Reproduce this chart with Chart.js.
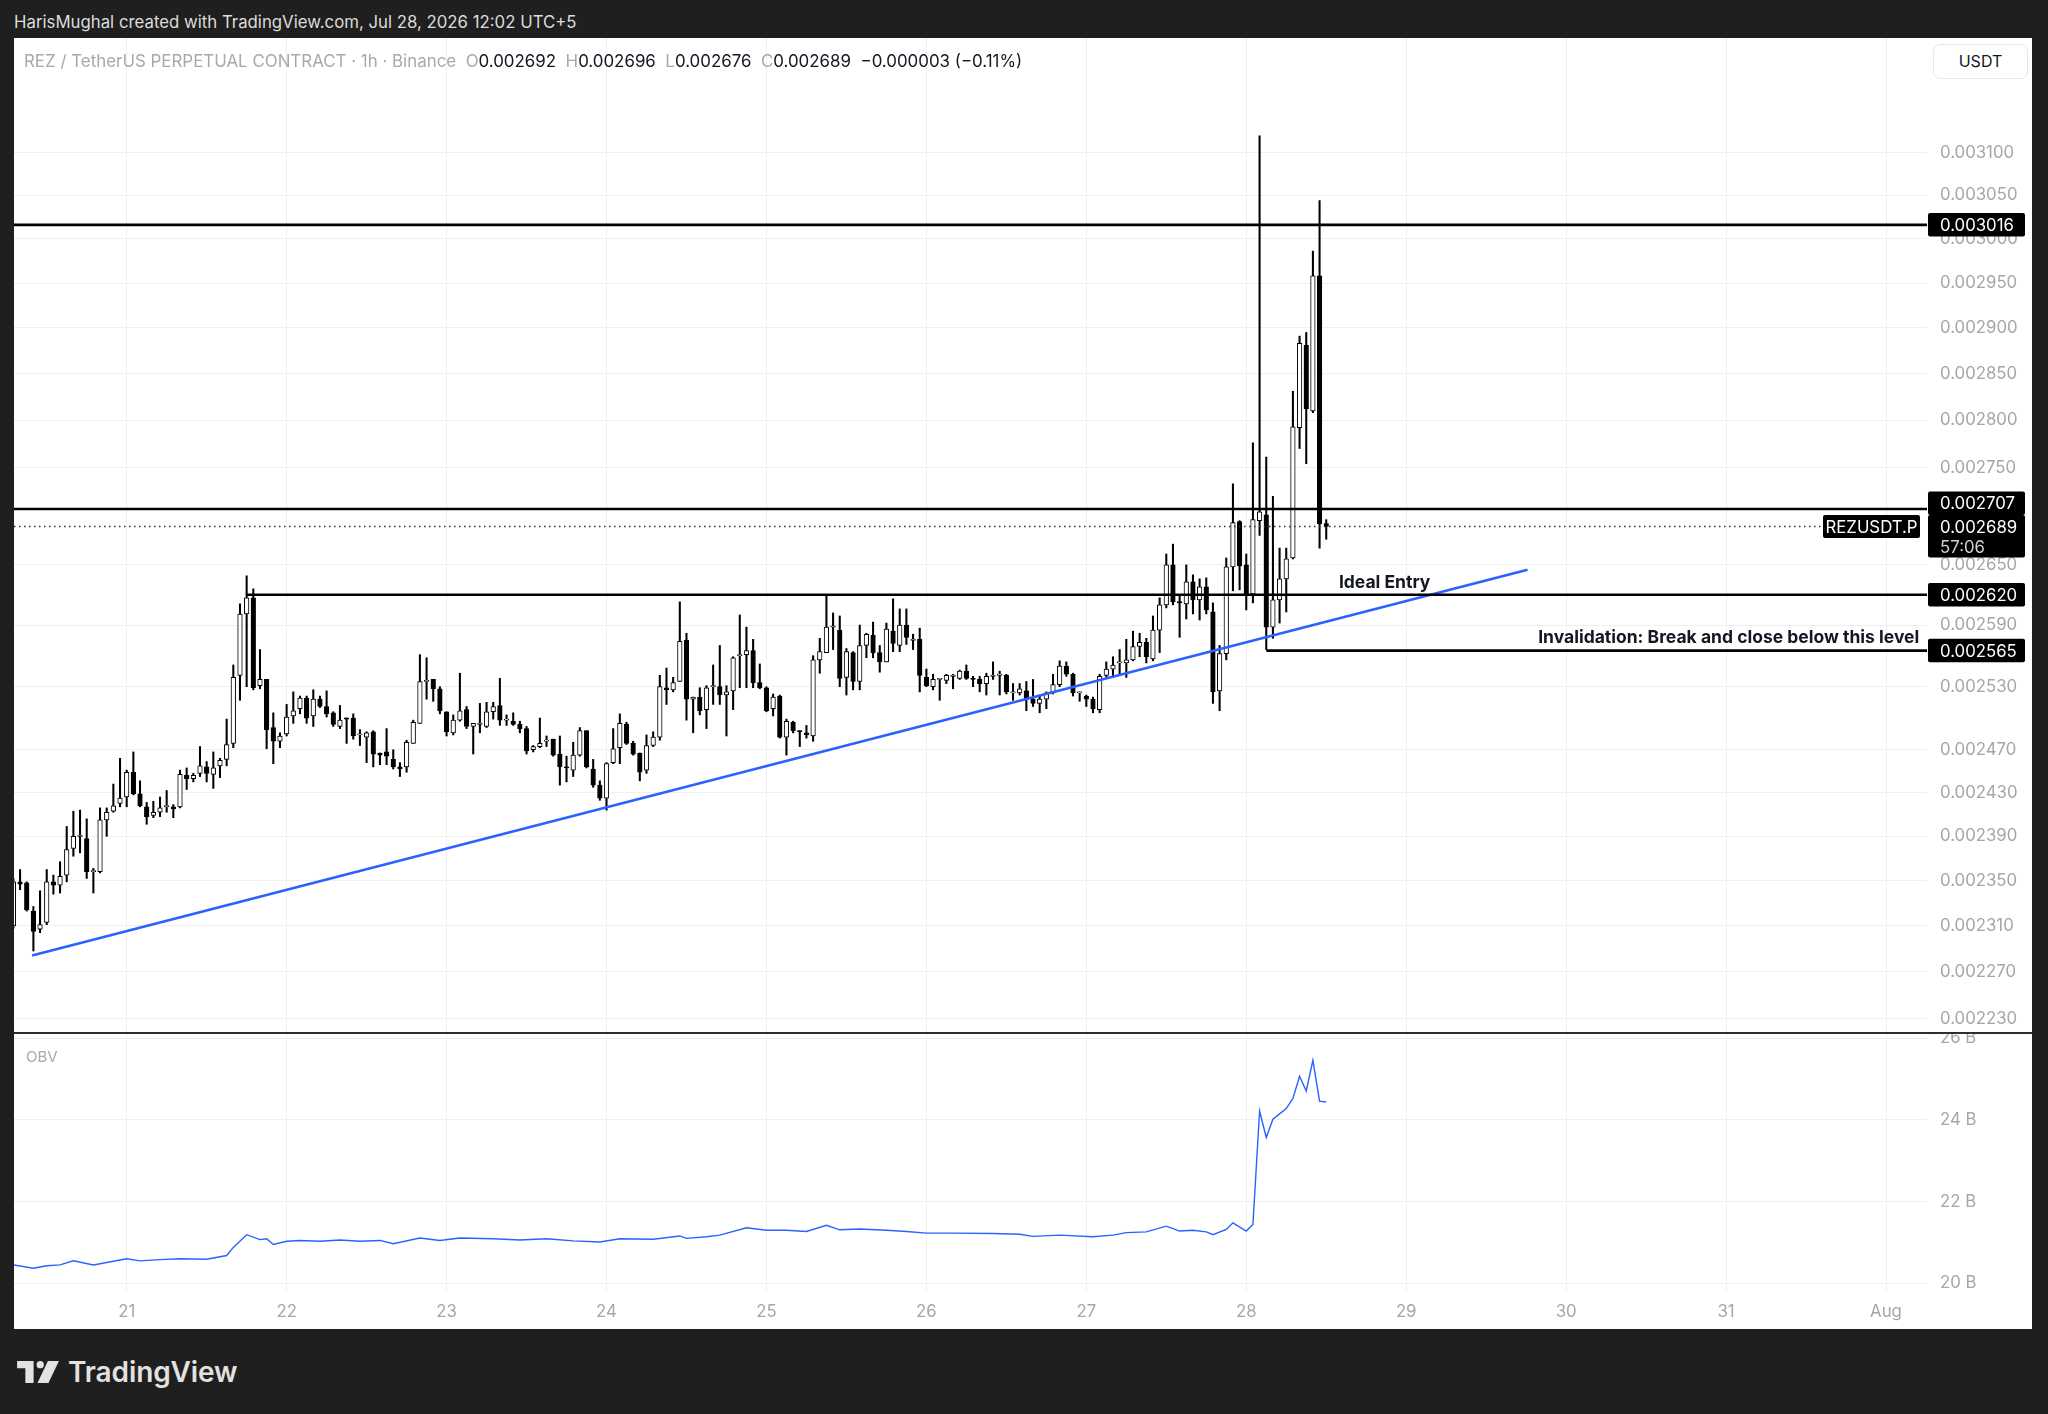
<!DOCTYPE html>
<html lang="en">
<head>
<meta charset="utf-8">
<title>REZUSDT.P · 1h · Binance</title>
<script src="https://cdn.jsdelivr.net/npm/chart.js@4.4.1/dist/chart.umd.min.js"></script>
<style>
  html, body { margin: 0; padding: 0; }
  body { width: 2048px; height: 1414px; background: #1f1f1f; position: relative; overflow: hidden; font-family: Inter, "Noto Sans", sans-serif; }
  #header { position: absolute; left: 14px; top: 12px; font-size: 16.8px; line-height: 20px; color: #dcdcdc; }
  #panel { position: absolute; left: 14px; top: 38px; width: 2018px; height: 1291px; background: #fff; }
  .pane { position: absolute; left: 0; width: 2018px; }
  #mainPane { top: 0; height: 995px; }
  #obvPane { top: 995px; height: 295px; }
  #divider { position: absolute; left: 0; top: 994px; width: 2018px; height: 2px; background: #2e2e2e; }
  #legend { position: absolute; left: 10px; top: 13px; font-size: 16.9px; line-height: 20px; color: #131722; white-space: pre; }
  #legend .dim { color: #a9a9a9; }
  #usdt { position: absolute; left: 1919px; top: 6px; width: 93px; height: 33px; border: 1px solid #e6e6e6; border-radius: 7px;
          font-size: 16px; line-height: 33px; text-align: center; color: #131722; background: #fff; }
  #obvTitle { position: absolute; left: 12px; top: 1009px; font-size: 15px; color: #a9a9a9; }
  #brand { position: absolute; left: 17px; top: 1358px; height: 28px; display: flex; align-items: center; gap: 9px;
           color: #e2e2e2; font-weight: 600; font-size: 28px; letter-spacing: -0.1px; }
</style>
</head>
<body>
<div id="header">HarisMughal created with TradingView.com, Jul 28, 2026 12:02 UTC+5</div>
<div id="panel">
  <div class="pane" id="mainPane"><canvas id="priceChart"></canvas></div>
  <div class="pane" id="obvPane"><canvas id="obvChart"></canvas></div>
  <div id="divider"></div>
  <div id="legend"></div>
  <div id="usdt">USDT</div>
  <div id="obvTitle">OBV</div>
</div>
<div id="brand">
  <svg width="42" height="22" viewBox="0 0 38 20"><path d="M15 0H0v6.5h7.5V20H15z" fill="#e2e2e2"/><circle cx="21" cy="3.3" r="3.3" fill="#e2e2e2"/><path d="M28 0h10l-9.5 20H18.5z" fill="#e2e2e2"/></svg>
  <span>TradingView</span>
</div>
<script>
// hourly candles, first one at 20 Jul 07:00 (hours counted from 21 Jul 00:00)
const firstHour = -17;
// prices in millionths of a USDT
const candleOpen = [
  2310, 2349, 2348, 2323, 2307, 2313, 2349, 2346, 2355, 2379, 2390, 2388,
  2358, 2358, 2405, 2413, 2420, 2426, 2449, 2429, 2417, 2409, 2412, 2417,
  2417, 2417, 2446, 2443, 2448, 2454, 2447, 2455, 2461, 2476, 2541, 2601,
  2617, 2531, 2537, 2491, 2478, 2485, 2502, 2509, 2519, 2502, 2518, 2511,
  2505, 2492, 2500, 2500, 2484, 2482, 2487, 2467, 2468, 2461, 2454, 2454,
  2476, 2495, 2535, 2537, 2528, 2506, 2486, 2498, 2508, 2492, 2494, 2492,
  2506, 2512, 2498, 2497, 2494, 2490, 2470, 2473, 2478, 2480, 2466, 2454,
  2451, 2465, 2488, 2452, 2437, 2425, 2458, 2472, 2494, 2476, 2467, 2451,
  2474, 2482, 2529, 2527, 2535, 2575, 2518, 2520, 2508, 2530, 2530, 2522,
  2526, 2560, 2561, 2565, 2534, 2529, 2509, 2521, 2482, 2496, 2488, 2486,
  2483, 2556, 2563, 2588, 2585, 2539, 2563, 2535, 2570, 2580, 2563, 2554,
  2584, 2570, 2590, 2575, 2576, 2539, 2530, 2537, 2536, 2540, 2538, 2545,
  2538, 2537, 2533, 2540, 2541, 2541, 2524, 2524, 2526, 2518, 2514, 2518,
  2524, 2532, 2550, 2542, 2524, 2521, 2518, 2508, 2541, 2547, 2553, 2553,
  2556, 2569, 2573, 2557, 2585, 2610, 2650, 2613, 2611, 2633, 2615, 2628,
  2603, 2526, 2562, 2648, 2694, 2650, 2621, 2695, 2701, 2588, 2615, 2636,
  2657, 2792, 2881, 2810, 2958, 2692
];
const candleHigh = [
  2352, 2360, 2349, 2327, 2341, 2360, 2355, 2367, 2399, 2413, 2414, 2406,
  2361, 2416, 2416, 2438, 2462, 2451, 2468, 2441, 2421, 2422, 2426, 2432,
  2419, 2451, 2453, 2448, 2473, 2459, 2468, 2462, 2499, 2551, 2611, 2639,
  2626, 2566, 2537, 2505, 2486, 2513, 2525, 2521, 2521, 2527, 2521, 2526,
  2506, 2512, 2500, 2504, 2489, 2487, 2488, 2467, 2490, 2470, 2458, 2479,
  2498, 2561, 2558, 2537, 2530, 2506, 2503, 2543, 2511, 2495, 2514, 2515,
  2515, 2538, 2503, 2505, 2497, 2492, 2474, 2500, 2483, 2480, 2483, 2464,
  2477, 2491, 2488, 2461, 2441, 2458, 2490, 2504, 2496, 2478, 2467, 2484,
  2487, 2541, 2548, 2539, 2613, 2582, 2520, 2529, 2531, 2551, 2570, 2531,
  2559, 2600, 2588, 2576, 2552, 2530, 2523, 2522, 2499, 2497, 2488, 2493,
  2560, 2577, 2620, 2602, 2599, 2567, 2564, 2590, 2582, 2593, 2570, 2592,
  2616, 2606, 2606, 2581, 2587, 2547, 2542, 2538, 2542, 2542, 2546, 2551,
  2540, 2540, 2543, 2554, 2545, 2542, 2533, 2533, 2535, 2537, 2522, 2525,
  2542, 2555, 2554, 2543, 2525, 2522, 2520, 2542, 2554, 2559, 2566, 2576,
  2584, 2582, 2577, 2599, 2617, 2661, 2671, 2620, 2650, 2640, 2636, 2637,
  2612, 2570, 2657, 2733, 2695, 2661, 2776, 3120, 2761, 2720, 2667, 2667,
  2831, 2891, 2895, 2986, 3044, 2696
];
const candleLow = [
  2308, 2342, 2323, 2288, 2304, 2311, 2338, 2339, 2349, 2372, 2375, 2352,
  2339, 2357, 2390, 2412, 2417, 2417, 2428, 2417, 2401, 2407, 2408, 2412,
  2407, 2416, 2433, 2440, 2445, 2440, 2434, 2444, 2455, 2472, 2517, 2530,
  2527, 2528, 2471, 2457, 2472, 2483, 2495, 2504, 2495, 2492, 2510, 2501,
  2492, 2490, 2476, 2480, 2474, 2458, 2454, 2456, 2456, 2452, 2445, 2449,
  2476, 2495, 2518, 2516, 2504, 2483, 2484, 2497, 2490, 2466, 2486, 2491,
  2499, 2493, 2493, 2493, 2486, 2466, 2468, 2472, 2473, 2464, 2437, 2440,
  2445, 2464, 2453, 2435, 2423, 2414, 2457, 2457, 2475, 2465, 2441, 2448,
  2473, 2479, 2513, 2525, 2535, 2498, 2486, 2503, 2490, 2513, 2513, 2483,
  2508, 2529, 2529, 2529, 2528, 2506, 2502, 2481, 2465, 2486, 2473, 2481,
  2478, 2543, 2563, 2566, 2530, 2522, 2527, 2527, 2558, 2558, 2544, 2554,
  2564, 2564, 2571, 2566, 2525, 2530, 2527, 2517, 2533, 2528, 2537, 2537,
  2530, 2525, 2522, 2537, 2522, 2523, 2517, 2522, 2507, 2511, 2505, 2509,
  2523, 2530, 2540, 2521, 2516, 2511, 2505, 2505, 2539, 2539, 2542, 2539,
  2555, 2559, 2553, 2555, 2563, 2607, 2610, 2578, 2596, 2601, 2595, 2601,
  2514, 2507, 2556, 2624, 2625, 2605, 2612, 2680, 2566, 2577, 2592, 2603,
  2656, 2770, 2754, 2808, 2667, 2676
];
const candleClose = [
  2349, 2347, 2324, 2305, 2311, 2349, 2346, 2354, 2378, 2390, 2391, 2358,
  2358, 2405, 2412, 2418, 2425, 2449, 2429, 2418, 2408, 2412, 2416, 2418,
  2415, 2447, 2443, 2446, 2455, 2448, 2453, 2460, 2475, 2539, 2601, 2617,
  2529, 2537, 2489, 2478, 2483, 2501, 2507, 2519, 2500, 2518, 2511, 2504,
  2494, 2498, 2499, 2483, 2484, 2486, 2466, 2465, 2464, 2454, 2452, 2477,
  2496, 2535, 2536, 2528, 2507, 2487, 2498, 2507, 2492, 2495, 2495, 2506,
  2511, 2498, 2498, 2494, 2490, 2469, 2473, 2476, 2478, 2465, 2454, 2453,
  2465, 2488, 2454, 2437, 2425, 2457, 2471, 2495, 2476, 2466, 2449, 2474,
  2482, 2530, 2527, 2534, 2574, 2518, 2520, 2507, 2529, 2531, 2522, 2525,
  2558, 2560, 2565, 2534, 2529, 2507, 2520, 2482, 2497, 2488, 2487, 2484,
  2556, 2564, 2588, 2588, 2538, 2564, 2535, 2570, 2581, 2563, 2554, 2586,
  2572, 2590, 2578, 2575, 2541, 2531, 2537, 2538, 2541, 2540, 2545, 2538,
  2537, 2533, 2540, 2541, 2541, 2525, 2524, 2528, 2518, 2514, 2518, 2524,
  2532, 2550, 2542, 2524, 2524, 2518, 2509, 2540, 2547, 2551, 2553, 2556,
  2569, 2573, 2559, 2585, 2610, 2650, 2613, 2612, 2633, 2615, 2628, 2605,
  2525, 2562, 2648, 2693, 2649, 2621, 2696, 2704, 2588, 2615, 2636, 2656,
  2793, 2883, 2812, 2958, 2692, 2689
];

// OBV in billions, at the hours where the line turns
const obvHours = [
  -17, -14, -12, -10, -8, -5, 0, 2, 5, 8, 12, 15, 16, 18, 20, 21, 22, 24, 26, 29,
  32, 35, 38, 40, 44, 47, 50, 55, 59, 63, 67, 71, 74, 79, 83, 84, 87, 89, 93, 96,
  99, 102, 105, 107, 110, 114, 117, 120, 124, 130, 134, 136, 140, 145, 148, 150, 153, 156, 158, 160,
  162, 163, 165, 166, 168, 169, 170, 171, 172, 173, 174, 175, 176, 177, 178, 179, 180
];
const obvValues = [
  20.45, 20.37, 20.43, 20.45, 20.55, 20.45, 20.60, 20.55, 20.58, 20.60, 20.59, 20.68, 20.88, 21.19, 21.07, 21.09, 20.95, 21.03, 21.05, 21.03,
  21.06, 21.03, 21.05, 20.97, 21.11, 21.05, 21.11, 21.09, 21.06, 21.09, 21.04, 21.01, 21.09, 21.08, 21.16, 21.10, 21.14, 21.18, 21.36, 21.30,
  21.30, 21.27, 21.42, 21.31, 21.33, 21.30, 21.27, 21.23, 21.23, 21.22, 21.20, 21.15, 21.18, 21.14, 21.18, 21.24, 21.26, 21.40, 21.28, 21.30,
  21.26, 21.19, 21.32, 21.48, 21.28, 21.44, 24.22, 23.57, 24.02, 24.15, 24.28, 24.53, 25.07, 24.71, 25.46, 24.46, 24.44
];

const dayLabels = ['21', '22', '23', '24', '25', '26', '27', '28', '29', '30', '31', 'Aug'];
const priceTicks = [0.003100, 0.003050, 0.003000, 0.002950, 0.002900, 0.002850, 0.002800, 0.002750, 0.002650,
  0.002590, 0.002530, 0.002470, 0.002430, 0.002390, 0.002350, 0.002310, 0.002270, 0.002230];
const obvTicks = [20, 22, 24, 26];

// drawn levels and trendline
const resistance = 0.003016;
const breakout = 0.002707;
const entryLevel = 0.002620;
const invalidLevel = 0.002565;
const entryFromHour = 18;
const invalidFromHour = 171;
const trendHours = [-14.2, 210.2];
const trendPrices = [0.002284, 0.002645];
const notes = [
  { text: 'Ideal Entry', hour: 181.9, price: 0.0026316 },
  { text: 'Invalidation: Break and close below this level', hour: 211.8, price: 0.0025771 }
];

// visible window
const xMin = -16.91, xMax = 270.15;
const yMin = 0.0022177, yMax = 0.0032382;
const obvMin = 19.787, obvMax = 26.13;

const gridColor = '#efefef';
const tickColor = '#a6a6a6';
const axisFont = { family: 'Inter', size: 16.8 };
Chart.defaults.font.family = 'Inter';
Chart.defaults.font.size = 16;

const micro = v => v / 1e6;
const isUp = i => candleClose[i] >= candleOpen[i];
const hourOf = i => firstHour + i;
const last = candleClose.length - 1;
const lastPrice = micro(candleClose[last]);

// legend line
(function () {
  const f = v => micro(v).toFixed(6);
  const ch = candleClose[last] - candleClose[last - 1];
  const pct = (ch / candleClose[last - 1] * 100).toFixed(2);
  const sign = ch < 0 ? '\u2212' : '+';
  document.getElementById('legend').innerHTML =
    '<span class="dim">REZ / TetherUS PERPETUAL CONTRACT · 1h · Binance  O</span>' + f(candleOpen[last]) +
    '<span class="dim">  H</span>' + f(candleHigh[last]) +
    '<span class="dim">  L</span>' + f(candleLow[last]) +
    '<span class="dim">  C</span>' + f(candleClose[last]) +
    '  ' + sign + micro(Math.abs(ch)).toFixed(6) + ' (' + sign + Math.abs(pct) + '%)';
})();

function hLine(price, from, to, extra) {
  return Object.assign({
    type: 'line', data: [{ x: from, y: price }, { x: to, y: price }],
    borderColor: '#000', borderWidth: 2.6, pointRadius: 0, order: 0
  }, extra || {});
}

function tag(ctx, x, y, w, h) {
  ctx.beginPath();
  if (ctx.roundRect) ctx.roundRect(x, y, w, h, 2); else ctx.rect(x, y, w, h);
  ctx.fill();
}

const priceTags = {
  id: 'priceTags',
  afterDraw(chart) {
    const { ctx, chartArea: area, scales: { x, y } } = chart;
    const left = area.right + 1, w = 97, tx = area.right + 13, h = 23.5;
    const yLast = y.getPixelForValue(lastPrice);
    const curTop = yLast - 11.5, curH = 42.5;
    ctx.save();
    ctx.font = '16.8px Inter';
    ctx.textBaseline = 'middle';
    ctx.textAlign = 'left';
    [resistance, breakout, entryLevel, invalidLevel].forEach(v => {
      let top = y.getPixelForValue(v) - h / 2;
      if (top + h > curTop && top < curTop + curH) top = curTop - h;
      ctx.fillStyle = '#000';
      tag(ctx, left, top, w, h);
      ctx.fillStyle = '#fff';
      ctx.fillText(v.toFixed(6), tx, top + h / 2 + 1);
    });
    ctx.fillStyle = '#000';
    tag(ctx, left, curTop, w, curH);
    ctx.fillStyle = '#fff';
    ctx.fillText(lastPrice.toFixed(6), tx, yLast + 1);
    ctx.fillStyle = '#d2d2d2';
    ctx.fillText('57:06', tx, yLast + 21);
    ctx.fillStyle = '#000';
    tag(ctx, area.right - 104, yLast - 11.5, 97, 23);
    ctx.fillStyle = '#fff';
    ctx.textAlign = 'center';
    ctx.fillText('REZUSDT.P', area.right - 55.5, yLast + 1);
    ctx.fillStyle = '#131722';
    ctx.font = 'bold 17.5px Inter';
    ctx.textAlign = 'left';
    notes.forEach(n => ctx.fillText(n.text, x.getPixelForValue(n.hour), y.getPixelForValue(n.price)));
    ctx.restore();
  }
};

const dayTicks = s => { s.ticks = dayLabels.map((_, i) => ({ value: i * 24 })); };

new Chart(document.getElementById('priceChart'), {
  type: 'bar',
  data: {
    datasets: [
      hLine(resistance, xMin, xMax),
      hLine(breakout, xMin, xMax),
      hLine(entryLevel, entryFromHour, xMax),
      hLine(invalidLevel, invalidFromHour, xMax),
      hLine(lastPrice, xMin, 254.5, { borderWidth: 1.3, borderDash: [1.5, 3.5], borderColor: '#333' }),
      {
        type: 'line',
        data: trendHours.map((hr, i) => ({ x: hr, y: trendPrices[i] })),
        borderColor: '#2962ff', borderWidth: 2.6, pointRadius: 0, order: 0
      },
      {
        label: 'bodies',
        data: candleOpen.map((o, i) => ({ x: hourOf(i), y: [micro(o), micro(candleClose[i])] })),
        backgroundColor: c => isUp(c.dataIndex) ? '#ffffff' : '#000000',
        borderColor: '#000', borderWidth: 1, borderSkipped: false,
        barThickness: 4.6, minBarLength: 1.2, grouped: false, order: 1
      },
      {
        label: 'wicks',
        data: candleLow.map((l, i) => ({ x: hourOf(i), y: [micro(l), micro(candleHigh[i])] })),
        backgroundColor: '#000', borderWidth: 0,
        barThickness: 1.4, grouped: false, order: 2
      }
    ]
  },
  options: {
    animation: false, responsive: true, maintainAspectRatio: false, events: [],
    layout: { padding: 0 },
    plugins: { legend: { display: false }, tooltip: { enabled: false } },
    scales: {
      x: {
        type: 'linear', min: xMin, max: xMax, bounds: 'data', offset: false,
        grid: { color: gridColor, drawTicks: false, offset: false },
        border: { display: false },
        ticks: { display: false },
        afterBuildTicks: dayTicks
      },
      y: {
        type: 'logarithmic', position: 'right', min: yMin, max: yMax, bounds: 'data', beginAtZero: false,
        grid: { color: gridColor, drawTicks: false },
        border: { display: false },
        ticks: { color: tickColor, font: axisFont, padding: 13, autoSkip: false, callback: v => Number(v).toFixed(6) },
        afterBuildTicks: s => { s.ticks = priceTicks.map(v => ({ value: v })); },
        afterFit: s => { s.width = 105; s.paddingTop = 0; s.paddingBottom = 0; }
      }
    }
  },
  plugins: [priceTags]
});

new Chart(document.getElementById('obvChart'), {
  type: 'line',
  data: {
    datasets: [{
      label: 'OBV',
      data: obvHours.map((hr, i) => ({ x: hr, y: obvValues[i] })),
      borderColor: '#2962ff', borderWidth: 1.4, pointRadius: 0, tension: 0
    }]
  },
  options: {
    animation: false, responsive: true, maintainAspectRatio: false, events: [],
    layout: { padding: 0 },
    plugins: { legend: { display: false }, tooltip: { enabled: false } },
    scales: {
      x: {
        type: 'linear', min: xMin, max: xMax, bounds: 'data', offset: false,
        grid: { color: gridColor, drawTicks: false },
        border: { display: false },
        ticks: { color: tickColor, font: axisFont, padding: 10, autoSkip: false, maxRotation: 0, callback: (v, i) => dayLabels[i] },
        afterBuildTicks: dayTicks,
        afterFit: s => { s.height = 36; s.paddingLeft = 0; s.paddingRight = 0; }
      },
      y: {
        type: 'linear', position: 'right', min: obvMin, max: obvMax, bounds: 'data',
        grid: { color: gridColor, drawTicks: false },
        border: { display: false },
        ticks: { color: tickColor, font: axisFont, padding: 13, autoSkip: false, callback: v => v + ' B' },
        afterBuildTicks: s => { s.ticks = obvTicks.map(v => ({ value: v })); },
        afterFit: s => { s.width = 105; s.paddingTop = 0; s.paddingBottom = 0; }
      }
    }
  }
});
</script>
</body>
</html>
